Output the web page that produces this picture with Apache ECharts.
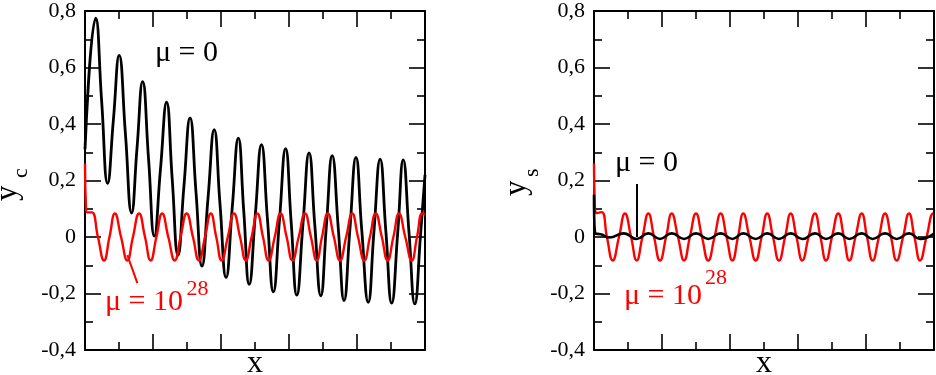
<!DOCTYPE html>
<html>
<head>
<meta charset="utf-8">
<script src="https://cdn.jsdelivr.net/npm/echarts@6/dist/echarts.min.js"></script>
<style>
html,body{margin:0;padding:0;background:#fff;}
#chart{width:936px;height:375px;}
</style>
</head>
<body>
<div id="chart"></div>
<script>
// ---- data (x in axis units 0..10, y values) ----
const yTickLabels = ['-0,4', '-0,2', '0', '0,2', '0,4', '0,6', '0,8'];

const leftMu0 = [[0,0.31],[0.315,0.775],[0.49,0.48],[0.665,0.19],[0.835,0.415],[1.005,0.643],[1.19,0.363],[1.37,0.085],[1.53,0.315],[1.695,0.55],[1.87,0.275],[2.04,0.003],[2.22,0.24],[2.40,0.477],[2.565,0.205],[2.735,-0.065],[2.91,0.18],[3.09,0.422],[3.265,0.158],[3.44,-0.103],[3.62,0.14],[3.80,0.38],[3.97,0.117],[4.15,-0.144],[4.33,0.103],[4.51,0.35],[4.67,0.09],[4.83,-0.168],[5.01,0.08],[5.19,0.327],[5.365,0.065],[5.54,-0.194],[5.72,0.06],[5.90,0.313],[6.065,0.05],[6.23,-0.206],[6.41,0.045],[6.59,0.298],[6.76,0.04],[6.935,-0.208],[7.10,0.04],[7.27,0.288],[7.45,0.03],[7.62,-0.225],[7.79,0.025],[7.97,0.282],[8.14,0.024],[8.33,-0.231],[8.50,0.022],[8.68,0.276],[8.85,0.018],[9.02,-0.234],[9.20,0.02],[9.36,0.273],[9.53,0.015],[9.70,-0.237],[9.87,0.01],[10,0.22]];

const leftMu28 = [[0,0.26],[0.03,0.10],[0.07,0.087],[0.2,0.087],[0.38,0.0],[0.56,-0.083],[0.72,0],[0.88,0.083],[1.06,0],[1.245,-0.083],[1.41,0],[1.59,0.083],[1.765,0],[1.93,-0.083],[2.10,0],[2.27,0.083],[2.45,0],[2.64,-0.083],[2.81,0],[2.99,0.083],[3.175,0],[3.35,-0.083],[3.53,0],[3.70,0.083],[3.86,0],[4.02,-0.083],[4.20,0],[4.38,0.083],[4.56,0],[4.73,-0.083],[4.90,0],[5.07,0.083],[5.235,0],[5.40,-0.083],[5.58,0],[5.75,0.083],[5.93,0],[6.10,-0.083],[6.285,0],[6.47,0.083],[6.645,0],[6.815,-0.083],[6.97,0],[7.14,0.083],[7.32,0],[7.50,-0.083],[7.68,0],[7.86,0.083],[8.03,0],[8.215,-0.083],[8.38,0],[8.55,0.083],[8.73,0],[8.90,-0.083],[9.07,0],[9.235,0.083],[9.42,0],[9.61,-0.083],[9.765,0],[9.92,0.083],[10,0.082]];

const rightMu0 = [[0,0.15],[0.04,0.012],[0.2,0.01],[0.45,-0.002],[0.88,0.013],[1.255,-0.007],[1.60,0.013],[1.94,-0.007],[2.285,0.013],[2.65,-0.007],[3.00,0.013],[3.36,-0.007],[3.725,0.013],[4.07,-0.007],[4.39,0.013],[4.755,-0.007],[5.095,0.013],[5.44,-0.007],[5.785,0.013],[6.125,-0.007],[6.50,0.013],[6.825,-0.007],[7.185,0.013],[7.51,-0.007],[7.875,0.013],[8.195,-0.007],[8.56,0.013],[8.90,-0.007],[9.265,0.013],[9.59,-0.007],[10,0.012]];

const rightMu28 = [[0,0.26],[0.03,0.095],[0.08,0.085],[0.226,0.088],[0.38,0],[0.55,-0.083],[0.735,0],[0.91,0.083],[1.09,0],[1.255,-0.083],[1.425,0],[1.60,0.083],[1.765,0],[1.94,-0.083],[2.12,0],[2.285,0.083],[2.47,0],[2.65,-0.083],[2.82,0],[3.00,0.083],[3.175,0],[3.36,-0.083],[3.545,0],[3.725,0.083],[3.90,0],[4.07,-0.083],[4.235,0],[4.39,0.083],[4.57,0],[4.755,-0.083],[4.93,0],[5.095,0.083],[5.265,0],[5.44,-0.083],[5.62,0],[5.785,0.083],[5.955,0],[6.125,-0.083],[6.31,0],[6.50,0.083],[6.66,0],[6.825,-0.083],[7.00,0],[7.185,0.083],[7.35,0],[7.51,-0.083],[7.69,0],[7.875,0.083],[8.03,0],[8.195,-0.083],[8.38,0],[8.56,0.083],[8.735,0],[8.90,-0.083],[9.09,0],[9.265,0.083],[9.425,0],[9.59,-0.083],[9.78,0],[9.98,0.083],[10,0.083]];

// leader lines (data coords)
const leftLeader = [[1.245,-0.064],[1.54,-0.163]];
const rightLeader = [[1.255,0.188],[1.255,0.0]];

// ---- chart ----
const SERIF = '"Liberation Serif", "Times New Roman", serif';
const chart = echarts.init(document.getElementById('chart'), null, {renderer:'canvas'});

function xAx(grid, pos) {
  return {
    type:'value', gridIndex:grid, position:pos, min:0, max:10, interval:2,
    axisLine:{show:true, onZero:false, lineStyle:{color:'#000', width:2}},
    axisTick:{show:true, inside:true, length:16, lineStyle:{color:'#000', width:1.6}},
    minorTick:{show:true, splitNumber:2, length:8, lineStyle:{color:'#000', width:1.6}},
    axisLabel:{show:false}, splitLine:{show:false}, minorSplitLine:{show:false}
  };
}
function yAx(grid, pos, labels) {
  return {
    type:'value', gridIndex:grid, position:pos, min:-0.4, max:0.8, interval:0.2,
    axisLine:{show:true, onZero:false, lineStyle:{color:'#000', width:2}},
    axisTick:{show:true, inside:true, length:16, lineStyle:{color:'#000', width:1.6}},
    minorTick:{show:true, splitNumber:2, length:8, lineStyle:{color:'#000', width:1.6}},
    axisLabel:{show:labels, margin:9, color:'#000', fontSize:22, fontFamily:SERIF,
      formatter:function(v, i){ return yTickLabels[i]; }},
    splitLine:{show:false}, minorSplitLine:{show:false}
  };
}
function line(data, color, width, xi, yi, z, leader) {
  const s = {
    type:'line', data:data, xAxisIndex:xi, yAxisIndex:yi, showSymbol:false, symbol:'none',
    smooth:0.5, z:z, lineStyle:{color:color, width:width}, animation:false
  };
  if (leader) {
    s.markLine = {symbol:'none', silent:true, animation:false, label:{show:false},
      lineStyle:{color:color, width:2, type:'solid'},
      data:[[{coord:leader[0]},{coord:leader[1]}]]};
  }
  return s;
}
function txt(x, y, text, size, color, rot, align) {
  return {type:'text', x:x, y:y, rotation:rot||0, z:100,
    style:{text:text, font:size+'px '+SERIF, fill:color,
      align:align||'left', verticalAlign:'middle', textAlign:align||'left', textVerticalAlign:'middle'}};
}

const option = {
  animation:false,
  backgroundColor:'#fff',
  grid:[
    {left:85, right:511, top:10, bottom:25},
    {left:594, right:2, top:10, bottom:25}
  ],
  xAxis:[xAx(0,'bottom'), xAx(0,'top'), xAx(1,'bottom'), xAx(1,'top')],
  yAxis:[yAx(0,'left',true), yAx(0,'right',false), yAx(1,'left',true), yAx(1,'right',false)],
  series:[
    line(leftMu0, '#000', 2.8, 0, 0, 2),
    line(leftMu28, '#ff0000', 2.4, 0, 0, 3, leftLeader),
    line(rightMu28, '#ff0000', 2.4, 2, 2, 2),
    line(rightMu0, '#000', 2.6, 2, 2, 3, rightLeader)
  ],
  graphic:[
    txt(155, 53, 'μ = 0', 30, '#000'),
    txt(105, 302, 'μ = 10', 30, '#ff0000'),
    txt(186.5, 289, '28', 22, '#ff0000'),
    txt(615, 163.5, 'μ = 0', 30, '#000'),
    txt(624, 296, 'μ = 10', 30, '#ff0000'),
    txt(705, 278.5, '28', 22, '#ff0000'),
    txt(255, 364, 'x', 32, '#000', 0, 'center'),
    txt(764, 364, 'x', 32, '#000', 0, 'center'),
    txt(8, 201, 'y', 31, '#000', Math.PI/2),
    txt(21.5, 178, 'c', 22, '#000', Math.PI/2),
    txt(517, 196, 'y', 31, '#000', Math.PI/2),
    txt(532, 177, 's', 22, '#000', Math.PI/2)
  ]
};
chart.setOption(option);
</script>
</body>
</html>
